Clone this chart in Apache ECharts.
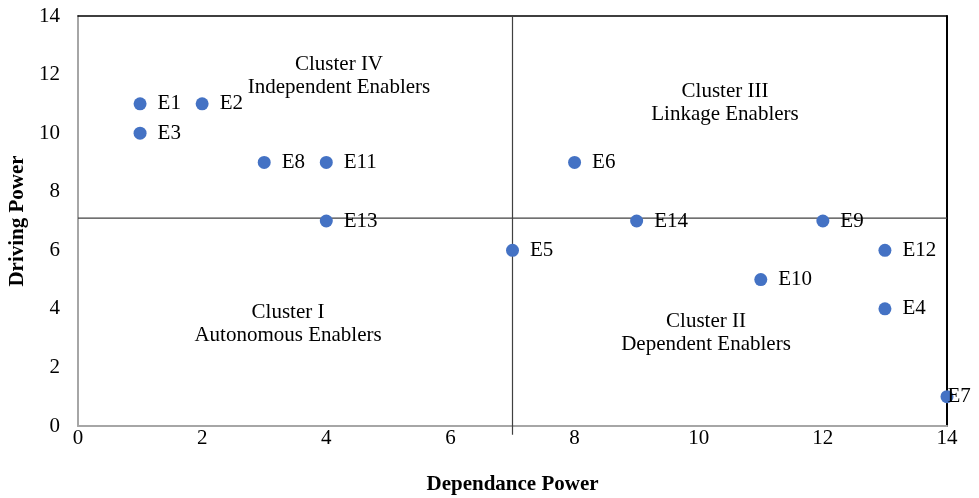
<!DOCTYPE html>
<html>
<head>
<meta charset="utf-8">
<script src="https://cdn.jsdelivr.net/npm/echarts@6/dist/echarts.min.js"></script>
<style>
  html, body { margin: 0; padding: 0; background: #fff; }
  #main { width: 979px; height: 498px; }
</style>
</head>
<body>
<div id="main"></div>
<script>
var names = ['E1', 'E2', 'E3', 'E4', 'E5', 'E6', 'E7', 'E8', 'E9', 'E10', 'E11', 'E12', 'E13', 'E14'];
var dependence = [1, 2, 1, 13, 7, 8, 14, 3, 12, 11, 4, 13, 4, 9];
var driving = [11, 11, 10, 4, 6, 9, 1, 9, 7, 5, 9, 6, 7, 7];
var xDivider = [[7, -0.3], [7, 14]];
var yDivider = [[0, 7.1], [14, 7.1]];

var font = 'Liberation Serif, Times New Roman, serif';

(function () {
    var dom = document.getElementById('main');
    var myChart = echarts.init(dom);
    var option = null;

    var points = names.map(function (n, i) {
        var p = { name: n, value: [dependence[i], driving[i]] };
        // label at the right border sits on top of its dot
        if (n === 'E7') p.label = { distance: -6 };
        return p;
    });

    // quadrant captions
    function caption(x, y, txt) {
        return {
            type: 'text', x: x, y: y, silent: true,
            style: {
                text: txt, align: 'center', verticalAlign: 'top',
                fontFamily: font, fontSize: 21, lineHeight: 23, fill: '#000'
            }
        };
    }

    option = {
        animation: false,
        grid: { left: 78, right: 32, top: 16, bottom: 72, outerBoundsMode: 'none' },
        xAxis: [{
            type: 'value', min: 0, max: 14, interval: 2,
            name: 'Dependance Power', nameLocation: 'middle', nameGap: 48,
            nameTextStyle: { fontFamily: font, fontWeight: 'bold', fontSize: 21, color: '#000' },
            axisLine: { show: true, onZero: false, lineStyle: { color: '#a6a6a6', width: 2 } },
            axisTick: { show: false },
            splitLine: { show: false },
            axisLabel: { fontFamily: font, fontSize: 21, color: '#000', margin: 2 }
        }, {
            type: 'value', min: 0, max: 14, position: 'top',
            axisLine: { show: true, onZero: false, lineStyle: { color: '#000', width: 1.5 } },
            axisTick: { show: false }, axisLabel: { show: false }, splitLine: { show: false }
        }],
        yAxis: [{
            type: 'value', min: 0, max: 14, interval: 2,
            name: 'Driving Power', nameLocation: 'middle', nameGap: 41,
            nameTextStyle: { fontFamily: font, fontWeight: 'bold', fontSize: 21, color: '#000' },
            axisLine: { show: true, onZero: false, lineStyle: { color: '#a6a6a6', width: 2 } },
            axisTick: { show: false },
            splitLine: { show: false },
            axisLabel: { fontFamily: font, fontSize: 21, color: '#000', margin: 18 }
        }, {
            type: 'value', min: 0, max: 14, position: 'right',
            axisLine: { show: true, onZero: false, lineStyle: { color: '#000', width: 2 } },
            axisTick: { show: false }, axisLabel: { show: false }, splitLine: { show: false }
        }],
        series: [{
            type: 'line', data: xDivider, symbol: 'none', clip: false,
            lineStyle: { color: '#404040', width: 1.2 }, silent: true
        }, {
            type: 'line', data: yDivider, symbol: 'none', clip: false,
            lineStyle: { color: '#404040', width: 1.2 }, silent: true
        }, {
            type: 'scatter',
            data: points,
            symbolSize: 13,
            clip: false,
            itemStyle: { color: '#4472c4', opacity: 1 },
            label: {
                show: true, position: 'right', distance: 11,
                formatter: '{b}',
                fontFamily: font, fontSize: 21, color: '#000'
            },
            z: 5
        }],
        graphic: [
            caption(339, 53, 'Cluster IV\nIndependent Enablers'),
            caption(725, 80, 'Cluster III\nLinkage Enablers'),
            caption(288, 301, 'Cluster I\nAutonomous Enablers'),
            caption(706, 310, 'Cluster II\nDependent Enablers')
        ]
    };
    if (option && typeof option === 'object') {
        myChart.setOption(option, true);
    }
})();
</script>
</body>
</html>
